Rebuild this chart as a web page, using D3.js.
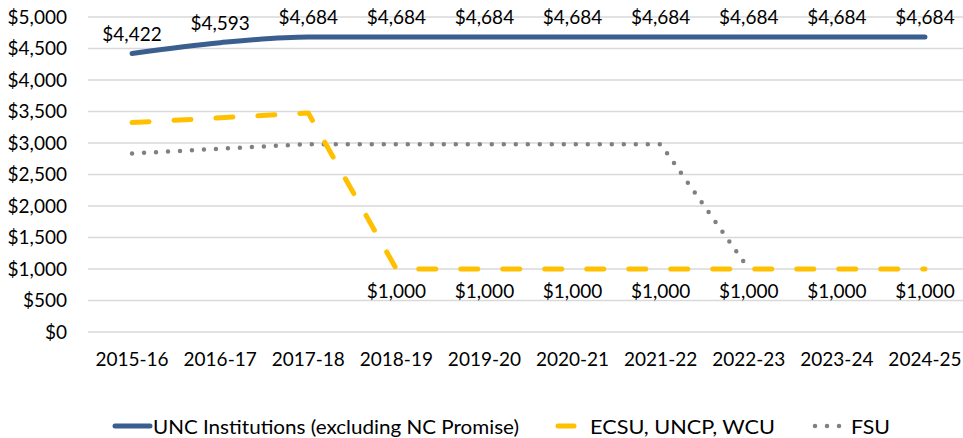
<!DOCTYPE html>
<html><head><meta charset="utf-8">
<script src="https://cdn.jsdelivr.net/npm/d3@7"></script>
<style>
body{margin:0;background:#fff;}
svg text{font-family:Lato,"Open Sans",sans-serif;fill:#000;}
</style></head>
<body><svg id="c" width="963" height="438"></svg>
<script>
const years = ["2015-16","2016-17","2017-18","2018-19","2019-20","2020-21","2021-22","2022-23","2023-24","2024-25"];
const unc = [4422,4593,4684,4684,4684,4684,4684,4684,4684,4684];
const ecsu = [3324,3400,3476,1000,1000,1000,1000,1000,1000,1000];
const fsu = [2833,2910,2982,2982,2982,2982,2982,1000,null,null];
const yTicks = [0,500,1000,1500,2000,2500,3000,3500,4000,4500,5000];
const legendLabels = ["UNC Institutions (excluding NC Promise)","ECSU, UNCP, WCU","FSU"];

const svg = d3.select("#c");
const x = d3.scaleBand().domain(years).range([88,969]).padding(0);
const y = d3.scaleLinear().domain([0,5000]).range([332,17]);
const cx = d => x(d) + x.bandwidth()/2;
const fmt = v => "$" + d3.format(",")(v);
const FS = 19;

// gridlines
svg.append("g").selectAll("line").data(yTicks).join("line")
  .attr("x1",88).attr("x2",969).attr("y1",d=>y(d)).attr("y2",d=>y(d))
  .attr("stroke","#d9d9d9").attr("stroke-width",1.3);

// y axis labels
const ya = svg.append("g").attr("transform","translate(67,0)")
  .call(d3.axisLeft(y).tickValues(yTicks).tickSize(0).tickPadding(0).tickFormat(fmt));
ya.select(".domain").remove();
ya.selectAll("text").attr("font-size",FS).attr("font-family","Lato,sans-serif").attr("fill","#000");

// x axis labels
const xa = svg.append("g").attr("transform","translate(0,352.5)")
  .call(d3.axisBottom(x).tickSize(0).tickPadding(0));
xa.select(".domain").remove();
xa.selectAll("text").attr("font-size",FS).attr("font-family","Lato,sans-serif").attr("fill","#000");

const line = d3.line().defined(d=>d.v!=null).x(d=>cx(d.k)).y(d=>y(d.v));
const mk = arr => years.map((k,i)=>({k,v:arr[i]}));

svg.append("path").datum(mk(fsu)).attr("d",line).attr("fill","none")
  .attr("stroke","#808080").attr("stroke-width",4.5).attr("stroke-linecap","round")
  .attr("stroke-dasharray","0,12");
svg.append("path").datum(mk(ecsu)).attr("d",line).attr("fill","none")
  .attr("stroke","#FFC000").attr("stroke-width",5).attr("stroke-linecap","round")
  .attr("stroke-linejoin","round").attr("stroke-dasharray","17,25");
svg.append("path").datum(mk(unc)).attr("d",d3.line().x(d=>cx(d.k)).y(d=>y(d.v)).curve(d3.curveMonotoneX))
  .attr("fill","none").attr("stroke","#3A5F8F").attr("stroke-width",5).attr("stroke-linecap","round");

// labels
svg.append("g").selectAll("text").data(mk(unc)).join("text")
  .attr("x",d=>cx(d.k)).attr("y",d=>y(d.v)-12.5).attr("text-anchor","middle")
  .attr("font-size",FS).text(d=>fmt(d.v));
svg.append("g").selectAll("text").data(mk(ecsu).slice(3)).join("text")
  .attr("x",d=>cx(d.k)).attr("y",d=>y(d.v)+29).attr("text-anchor","middle")
  .attr("font-size",FS).text(d=>fmt(d.v));

// legend
const lg = svg.append("g");
lg.append("line").attr("x1",115).attr("x2",150).attr("y1",426).attr("y2",426)
  .attr("stroke","#3A5F8F").attr("stroke-width",5).attr("stroke-linecap","round");
lg.append("text").attr("x",153).attr("y",434).attr("font-size",FS)
  .attr("textLength",366).attr("lengthAdjust","spacingAndGlyphs").text(legendLabels[0]);
lg.append("line").attr("x1",558).attr("x2",574).attr("y1",426).attr("y2",426)
  .attr("stroke","#FFC000").attr("stroke-width",5).attr("stroke-linecap","round");
lg.append("text").attr("x",590).attr("y",434).attr("font-size",FS)
  .attr("textLength",185).attr("lengthAdjust","spacingAndGlyphs").text(legendLabels[1]);
lg.append("line").attr("x1",815).attr("x2",840).attr("y1",426).attr("y2",426)
  .attr("stroke","#808080").attr("stroke-width",4.5).attr("stroke-linecap","round").attr("stroke-dasharray","0,12");
lg.append("text").attr("x",851).attr("y",434).attr("font-size",FS)
  .attr("textLength",39).attr("lengthAdjust","spacingAndGlyphs").text(legendLabels[2]);
</script></body></html>
